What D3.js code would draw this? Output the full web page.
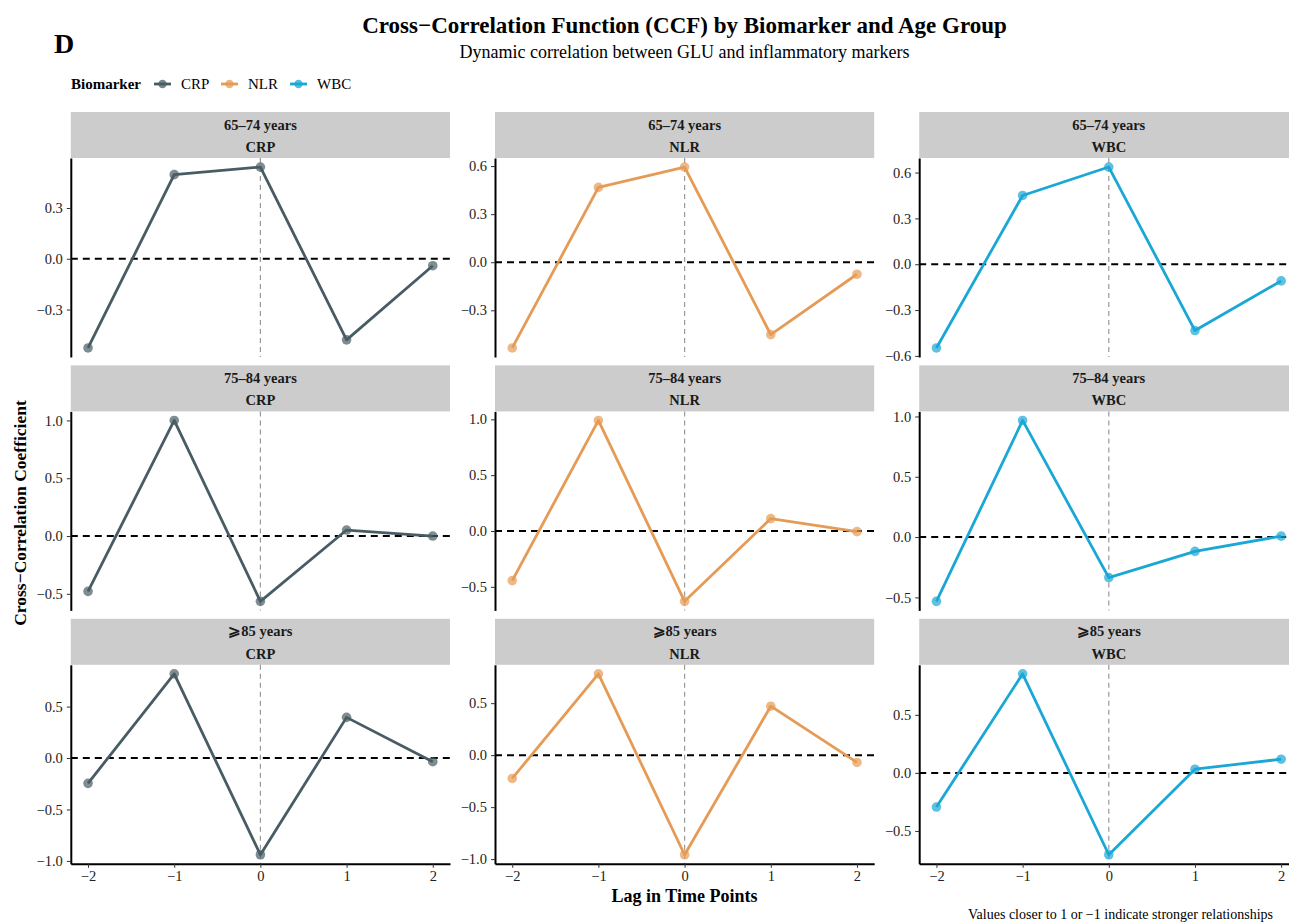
<!DOCTYPE html>
<html>
<head>
<meta charset="utf-8">
<script src="https://cdn.jsdelivr.net/npm/d3@7"></script>
<style>
  body { margin: 0; background: #fff; }
  svg { font-family: "Liberation Serif", "Times New Roman", serif; }
</style>
</head>
<body>
<div id="container"></div>
<script>
/* CONSTANTS AND GLOBALS */
const width = 1289,
  height = 923

const lags = [-2, -1, 0, 1, 2]
const ageGroups = ["65–74 years", "75–84 years", "⩾85 years"]
const biomarkers = ["CRP", "NLR", "WBC"]
const colors = ["#485c64", "#e59b55", "#1aa7d6"]

// cross-correlation per age group, one array per biomarker
const young_CRP = [-0.527, 0.497, 0.542, -0.479, -0.041]
const young_NLR = [-0.535, 0.467, 0.594, -0.452, -0.075]
const young_WBC = [-0.548, 0.450, 0.636, -0.434, -0.109]
const mid_CRP = [-0.479, 1.000, -0.565, 0.052, 0.000]
const mid_NLR = [-0.444, 0.990, -0.630, 0.111, -0.006]
const mid_WBC = [-0.533, 0.967, -0.336, -0.119, 0.008]
const old_CRP = [-0.246, 0.818, -0.940, 0.395, -0.036]
const old_NLR = [-0.224, 0.782, -0.958, 0.471, -0.070]
const old_WBC = [-0.294, 0.853, -0.705, 0.032, 0.118]

// y tick values per panel (free y scales)
const young_ticks = [[-0.3, 0, 0.3], [-0.3, 0, 0.3, 0.6], [-0.6, -0.3, 0, 0.3, 0.6]]
const mid_ticks = [[-0.5, 0, 0.5, 1], [-0.5, 0, 0.5, 1], [-0.5, 0, 0.5, 1]]
const old_ticks = [[-1, -0.5, 0, 0.5], [-1, -0.5, 0, 0.5], [-0.5, 0, 0.5]]

const series = [
  [young_CRP, young_NLR, young_WBC],
  [mid_CRP, mid_NLR, mid_WBC],
  [old_CRP, old_NLR, old_WBC]
]
const tickSets = [young_ticks, mid_ticks, old_ticks]

const panel = { left: 70.8, top: 112, w: 379.2, gapX: 45, stripH: 46, h: 199, pitchY: 253.4 }

const svg = d3.select("#container")
  .append("svg")
  .attr("width", width)
  .attr("height", height)

// titles
svg.append("text")
  .attr("x", 54).attr("y", 53)
  .attr("font-size", "28px").attr("font-weight", "bold")
  .text("D")

svg.append("text")
  .attr("x", 684.5).attr("y", 33)
  .attr("text-anchor", "middle")
  .attr("font-size", "23px").attr("font-weight", "bold")
  .text("Cross−Correlation Function (CCF) by Biomarker and Age Group")

svg.append("text")
  .attr("x", 684.5).attr("y", 58)
  .attr("text-anchor", "middle")
  .attr("font-size", "18px")
  .text("Dynamic correlation between GLU and inflammatory markers")

// legend
svg.append("text")
  .attr("x", 71).attr("y", 89)
  .attr("font-size", "15px").attr("font-weight", "bold")
  .text("Biomarker")

const legendX = [154, 221, 290]
biomarkers.forEach((b, i) => {
  const g = svg.append("g").attr("transform", `translate(${legendX[i]}, 84)`)
  g.append("line")
    .attr("x1", 0).attr("x2", 17).attr("y1", 0).attr("y2", 0)
    .attr("stroke", colors[i]).attr("stroke-width", 2.8)
  g.append("circle")
    .attr("cx", 8.5).attr("cy", 0).attr("r", 4.2)
    .attr("fill", colors[i]).attr("opacity", 0.75)
  g.append("text")
    .attr("x", 27).attr("y", 5)
    .attr("font-size", "15px")
    .text(b)
})

// x scale shared (same range for every column, offset by translate)
const xScale = d3.scaleLinear()
  .domain([-2.2, 2.2])
  .range([0, panel.w])

const fmtY = d3.format(".1f")

ageGroups.forEach((age, r) => {
  biomarkers.forEach((bio, c) => {
    const vals = series[r][c]
    const x0 = panel.left + c * (panel.w + panel.gapX)
    const y0 = panel.top + r * panel.pitchY
    const data = lags.map((l, i) => ({ lag: l, value: vals[i] }))

    const g = svg.append("g").attr("transform", `translate(${x0}, ${y0})`)

    // strip
    g.append("rect")
      .attr("width", panel.w).attr("height", panel.stripH)
      .attr("fill", "#cccccc")
    g.append("text")
      .attr("x", panel.w / 2).attr("y", 17.5)
      .attr("text-anchor", "middle")
      .attr("font-size", "14.5px").attr("font-weight", "bold").attr("fill", "#1a1a1a")
      .text(age)
    g.append("text")
      .attr("x", panel.w / 2).attr("y", 40)
      .attr("text-anchor", "middle")
      .attr("font-size", "14.5px").attr("font-weight", "bold").attr("fill", "#1a1a1a")
      .text(bio)

    const p = g.append("g").attr("transform", `translate(0, ${panel.stripH})`)

    const ext = d3.extent(vals.concat([0]))
    const pad = (ext[1] - ext[0]) * 0.05
    const yScale = d3.scaleLinear()
      .domain([ext[0] - pad, ext[1] + pad])
      .range([panel.h, 0])

    // reference lines
    p.append("line")
      .attr("x1", 0).attr("x2", panel.w)
      .attr("y1", yScale(0)).attr("y2", yScale(0))
      .attr("stroke", "#000").attr("stroke-width", 2)
      .attr("stroke-dasharray", "7,5")
    p.append("line")
      .attr("x1", xScale(0)).attr("x2", xScale(0))
      .attr("y1", 0).attr("y2", panel.h)
      .attr("stroke", "#9a9a9a").attr("stroke-width", 1.2)
      .attr("stroke-dasharray", "5,4")

    const line = d3.line()
      .x(d => xScale(d.lag))
      .y(d => yScale(d.value))

    p.append("path")
      .datum(data)
      .attr("d", line)
      .attr("fill", "none")
      .attr("stroke", colors[c])
      .attr("stroke-width", 2.8)
      .attr("stroke-linejoin", "round")

    p.selectAll("circle.dataPoint")
      .data(data)
      .join("circle")
      .attr("class", "dataPoint")
      .attr("cx", d => xScale(d.lag))
      .attr("cy", d => yScale(d.value))
      .attr("r", 4.8)
      .attr("fill", colors[c])
      .attr("opacity", 0.7)

    // y axis
    const yAxis = d3.axisLeft(yScale)
      .tickValues(tickSets[r][c])
      .tickFormat(fmtY)
      .tickSize(4)
      .tickSizeOuter(0)
      .tickPadding(4)
    const ya = p.append("g").attr("class", "y-axis").call(yAxis)
    ya.select(".domain").attr("stroke-width", 2).attr("stroke", "#000")
    ya.selectAll(".tick line").attr("stroke", "#333").attr("stroke-width", 1)
    ya.selectAll(".tick text")
      .attr("font-size", "14.5px").attr("fill", "#222")
      .attr("font-family", "Liberation Serif, serif")

    // x axis only on bottom row
    if (r === ageGroups.length - 1) {
      const xAxis = d3.axisBottom(xScale)
        .tickValues(lags)
        .tickFormat(d3.format("d"))
        .tickSize(4)
        .tickSizeOuter(0)
        .tickPadding(3)
      const xa = p.append("g")
        .attr("class", "x-axis")
        .attr("transform", `translate(0, ${panel.h})`)
        .call(xAxis)
      xa.select(".domain").attr("stroke-width", 2).attr("stroke", "#000")
      xa.selectAll(".tick line").attr("stroke", "#333").attr("stroke-width", 1)
      xa.selectAll(".tick text")
        .attr("font-size", "14.5px").attr("fill", "#222")
        .attr("font-family", "Liberation Serif, serif")
    }
  })
})

// axis titles and caption
svg.append("text")
  .attr("transform", "translate(26, 513) rotate(-90)")
  .attr("text-anchor", "middle")
  .attr("font-size", "17.5px").attr("font-weight", "bold")
  .text("Cross−Correlation Coefficient")

svg.append("text")
  .attr("x", 684.5).attr("y", 902)
  .attr("text-anchor", "middle")
  .attr("font-size", "18px").attr("font-weight", "bold")
  .text("Lag in Time Points")

svg.append("text")
  .attr("x", 1273).attr("y", 919)
  .attr("text-anchor", "end")
  .attr("font-size", "14px")
  .text("Values closer to 1 or −1 indicate stronger relationships")
</script>
</body>
</html>
